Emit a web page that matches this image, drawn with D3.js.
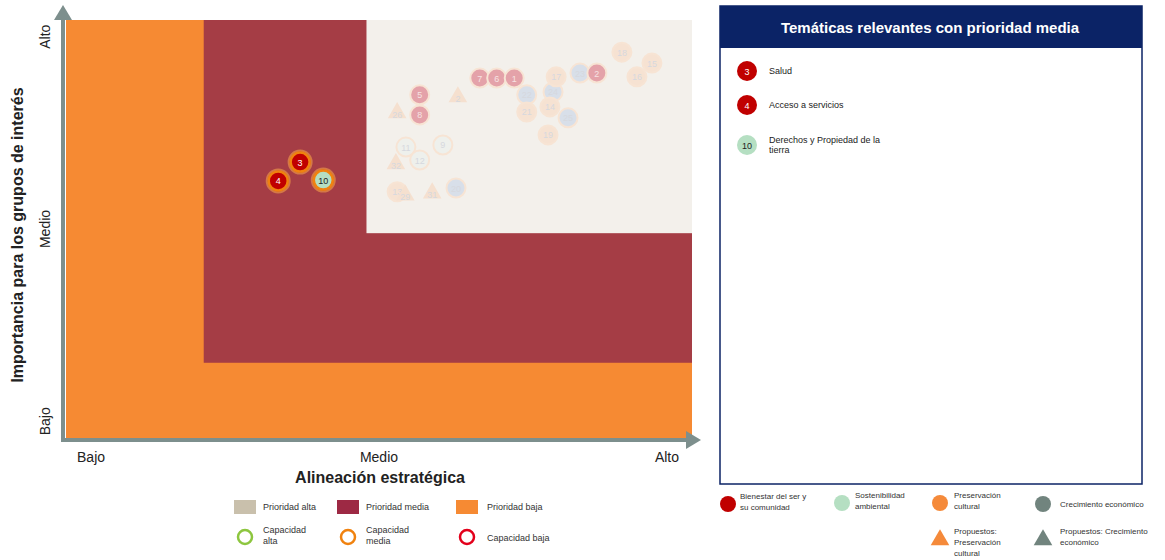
<!DOCTYPE html>
<html>
<head>
<meta charset="utf-8">
<script src="https://cdn.jsdelivr.net/npm/d3@7"></script>
<style>
  body { margin: 0; background: #fff; font-family: Arial, "Liberation Sans", sans-serif; }
</style>
</head>
<body>
<svg id="chart" width="1165" height="560"></svg>
<script>
// axis tick labels
const levelLabels = ['Bajo', 'Medio', 'Alto'];
const levelValues = [0.4, 5, 9.6];

// priority zones (value space 0..10)
const zoneNames = ['Prioridad baja', 'Prioridad media', 'Prioridad alta'];
const zoneX0 = [0, 2.2, 4.8];
const zoneY0 = [0, 1.8, 4.9];

// highlighted themes (prioridad media)
const hiIds = ['4', '3', '10'];
const hiX = [3.39, 3.74, 4.11];
const hiY = [6.15, 6.60, 6.17];
const hiGroup = ['bienestar', 'bienestar', 'sostenibilidad'];
const hiCap = ['media', 'media', 'media'];
const hiNames = ['Acceso a servicios', 'Salud', 'Derechos y Propiedad de la tierra'];

// faded themes in the high priority zone
const fadeIds = ['26', '5', '8', '2', '7', '6', '1', '22', '21', '24', '17', '14', '25', '23', '2', '18', '16', '15', '19', '11', '9', '12', '32', '13', '29', '31', '20'];
const fadeX = [5.29, 5.65, 5.65, 6.26, 6.61, 6.88, 7.16, 7.36, 7.36, 7.78, 7.83, 7.73, 8.02, 8.21, 8.48, 8.88, 9.12, 9.36, 7.70, 5.43, 6.02, 5.65, 5.27, 5.29, 5.42, 5.85, 6.23];
const fadeY = [7.78, 8.21, 7.73, 8.16, 8.61, 8.61, 8.61, 8.21, 7.80, 8.28, 8.64, 7.92, 7.66, 8.73, 8.73, 9.23, 8.64, 8.97, 7.25, 6.96, 7.01, 6.65, 6.56, 5.89, 5.81, 5.86, 5.98];
const fadeGroup = ['propPres', 'bienestar', 'bienestar', 'propPres', 'bienestar', 'bienestar', 'bienestar', 'crecimiento', 'preservacion', 'crecimiento', 'preservacion', 'preservacion', 'crecimiento', 'crecimiento', 'bienestar', 'preservacion', 'preservacion', 'preservacion', 'preservacion', 'sostenibilidad', 'sostenibilidad', 'sostenibilidad', 'propPres', 'preservacion', 'propPres', 'propPres', 'crecimiento'];

// legends
const groupKeys = ['bienestar', 'sostenibilidad', 'preservacion', 'crecimiento', 'propPres', 'propCrec'];
const groupLabels = [['Bienestar del ser y', 'su comunidad'], ['Sostenibilidad', 'ambiental'], ['Preservación', 'cultural'], ['Crecimiento económico'], ['Propuestos:', 'Preservación', 'cultural'], ['Propuestos: Crecimiento', 'económico']];
const capLabels = [['Capacidad', 'alta'], ['Capacidad', 'media'], ['Capacidad baja']];

const groupColor = {
  bienestar: '#c00000', sostenibilidad: '#b5dfc2', preservacion: '#f58a3a',
  crecimiento: '#71847e', propPres: '#f58a3a', propCrec: '#71847e'
};
const fadeColor = { bienestar: '#e4a2a9', sostenibilidad: '#eef0ec', preservacion: '#f6e2d2', crecimiento: '#d8dfe9', propPres: '#f5e0cf', propCrec: '#dfe2e0' };
const zoneColor = ['#f68a33', '#a53d45', '#f3f0eb'];
const capColor = { alta: '#8dc63f', media: '#f0820f', baja: '#e3001b' };

const svg = d3.select('#chart');

const x = d3.scaleLinear().domain([0, 10]).range([66, 692]);
const y = d3.scaleLinear().domain([0, 10]).range([438, 20]);

// zones
zoneNames.forEach((name, i) => {
  svg.append('rect')
    .attr('x', x(zoneX0[i]))
    .attr('y', y(10))
    .attr('width', x(10) - x(zoneX0[i]))
    .attr('height', y(zoneY0[i]) - y(10))
    .attr('fill', zoneColor[i]);
});

// axes with arrows
const axisColor = '#7d8f8d';
svg.append('line').attr('x1', 63).attr('y1', 442).attr('x2', 63).attr('y2', 18)
  .attr('stroke', axisColor).attr('stroke-width', 4);
svg.append('path').attr('d', 'M54,20 L63,5 L72,20 Z').attr('fill', axisColor);
svg.append('line').attr('x1', 61).attr('y1', 440).attr('x2', 688).attr('y2', 440)
  .attr('stroke', axisColor).attr('stroke-width', 4);
svg.append('path').attr('d', 'M686,431 L701,440 L686,449 Z').attr('fill', axisColor);

// tick labels
levelLabels.forEach((lab, i) => {
  svg.append('text')
    .attr('x', x(levelValues[i]))
    .attr('y', 462)
    .attr('text-anchor', 'middle')
    .attr('font-size', 14)
    .attr('font-family', '"Liberation Sans Narrow", Arial, sans-serif')
    .attr('fill', '#222')
    .text(lab);
  svg.append('text')
    .attr('transform', `translate(50,${y(levelValues[i])}) rotate(-90)`)
    .attr('text-anchor', 'middle')
    .attr('font-size', 14)
    .attr('font-family', '"Liberation Sans Narrow", Arial, sans-serif')
    .attr('fill', '#222')
    .text(lab);
});

svg.append('text').attr('x', 380).attr('y', 483).attr('text-anchor', 'middle')
  .attr('font-size', 16).attr('font-weight', 'bold').attr('fill', '#222')
  .text('Alineación estratégica');
svg.append('text').attr('transform', 'translate(23,235) rotate(-90)')
  .attr('text-anchor', 'middle')
  .attr('font-size', 16).attr('font-weight', 'bold').attr('fill', '#222')
  .text('Importancia para los grupos de interés');

// faded markers
const tri = d3.symbol().type(d3.symbolTriangle).size(150);
fadeIds.forEach((id, i) => {
  const g = svg.append('g')
    .attr('transform', `translate(${x(fadeX[i])},${y(fadeY[i])})`);
  const isTri = fadeGroup[i].startsWith('prop');
  if (isTri) {
    g.append('path').attr('d', tri).attr('fill', fadeColor[fadeGroup[i]]);
  } else {
    g.append('circle').attr('r', 9.5)
      .attr('fill', fadeColor[fadeGroup[i]])
      .attr('stroke', '#f7e4d4').attr('stroke-width', 2);
  }
  g.append('text').attr('y', isTri ? 5 : 3.5).attr('text-anchor', 'middle')
    .attr('font-size', 9).attr('fill', fadeGroup[i] === 'bienestar' ? '#f7e3e3' : '#d6d8de')
    .text(id);
});

// highlighted markers
hiIds.forEach((id, i) => {
  const g = svg.append('g')
    .attr('transform', `translate(${x(hiX[i])},${y(hiY[i])})`);
  g.append('circle').attr('r', 11.5)
    .attr('fill', 'none').attr('stroke', '#f4a04a').attr('stroke-opacity', 0.6).attr('stroke-width', 2);
  g.append('circle').attr('r', 9.5)
    .attr('fill', groupColor[hiGroup[i]])
    .attr('stroke', capColor[hiCap[i]]).attr('stroke-width', 2.5);
  g.append('text').attr('y', 3.5).attr('text-anchor', 'middle')
    .attr('font-size', 9)
    .attr('fill', hiGroup[i] === 'bienestar' ? '#fff' : '#222')
    .text(id);
});

// bottom-left legend: zones
const zoneLegendX = [234, 337, 456];
const zoneLegendOrder = [2, 1, 0];
const zoneLegendFill = ['#c9c0ac', '#9d2944', '#f68a33'];
zoneLegendOrder.forEach((zi, k) => {
  svg.append('rect').attr('x', zoneLegendX[k]).attr('y', 500)
    .attr('width', 22).attr('height', 14).attr('fill', zoneLegendFill[k]);
  svg.append('text').attr('x', zoneLegendX[k] + (k === 2 ? 31 : 29)).attr('y', 510)
    .attr('font-size', 9).attr('fill', '#333').text(zoneNames[zi]);
});

// capacity legend
const capKeys = ['alta', 'media', 'baja'];
capKeys.forEach((c, k) => {
  svg.append('circle').attr('cx', zoneLegendX[k] + 11).attr('cy', 537).attr('r', 7)
    .attr('fill', 'none').attr('stroke', capColor[c]).attr('stroke-width', 2.5);
  const lines = capLabels[k];
  lines.forEach((l, j) => {
    svg.append('text').attr('x', zoneLegendX[k] + (k === 2 ? 31 : 29))
      .attr('y', lines.length === 1 ? 541 : 533 + j * 11)
      .attr('font-size', 9).attr('fill', '#333').text(l);
  });
});

// right panel
const panel = svg.append('g');
panel.append('rect').attr('x', 720).attr('y', 6).attr('width', 422).attr('height', 478)
  .attr('fill', '#fff').attr('stroke', '#0b2366').attr('stroke-width', 1.5);
panel.append('rect').attr('x', 720).attr('y', 6).attr('width', 422).attr('height', 42)
  .attr('fill', '#0b2366');
panel.append('text').attr('x', 930).attr('y', 33).attr('text-anchor', 'middle')
  .attr('font-size', 15).attr('font-weight', 'bold').attr('fill', '#fff')
  .text('Temáticas relevantes con prioridad media');

const listOrder = [1, 0, 2];
const listY = [71, 105, 145];
listOrder.forEach((hi, k) => {
  panel.append('circle').attr('cx', 747).attr('cy', listY[k]).attr('r', 10)
    .attr('fill', groupColor[hiGroup[hi]]);
  panel.append('text').attr('x', 747).attr('y', listY[k] + 3.5).attr('text-anchor', 'middle')
    .attr('font-size', 9).attr('fill', hiGroup[hi] === 'bienestar' ? '#fff' : '#222')
    .text(hiIds[hi]);
  const name = hiNames[hi];
  const lines = name.length > 25 ? ['Derechos y Propiedad de la', 'tierra'] : [name];
  lines.forEach((l, j) => {
    panel.append('text').attr('x', 769)
      .attr('y', lines.length === 1 ? listY[k] + 3 : listY[k] - 2 + j * 10)
      .attr('font-size', 9).attr('fill', '#222').text(l);
  });
});

// bottom-right legend: groups
const grpX = [728, 842, 940, 1043, 940, 1043];
const grpY = [504, 503, 503, 504, 540, 540];
const grpTextX = [740, 855, 954, 1060, 954, 1060];
groupKeys.forEach((gk, k) => {
  if (gk.startsWith('prop')) {
    svg.append('path').attr('transform', `translate(${grpX[k]},${grpY[k]})`)
      .attr('d', d3.symbol().type(d3.symbolTriangle).size(150)).attr('fill', groupColor[gk]);
  } else {
    svg.append('circle').attr('cx', grpX[k]).attr('cy', grpY[k]).attr('r', 8)
      .attr('fill', groupColor[gk]);
  }
  const lines = groupLabels[k];
  const startY = lines.length === 1 ? grpY[k] + 3 : (lines.length === 3 ? grpY[k] - 6 : grpY[k] - 6 + (k === 5 ? 0 : 1));
  lines.forEach((l, j) => {
    svg.append('text').attr('x', grpTextX[k]).attr('y', startY + j * 11)
      .attr('font-size', 8).attr('fill', '#333').text(l);
  });
});
</script>
</body>
</html>
